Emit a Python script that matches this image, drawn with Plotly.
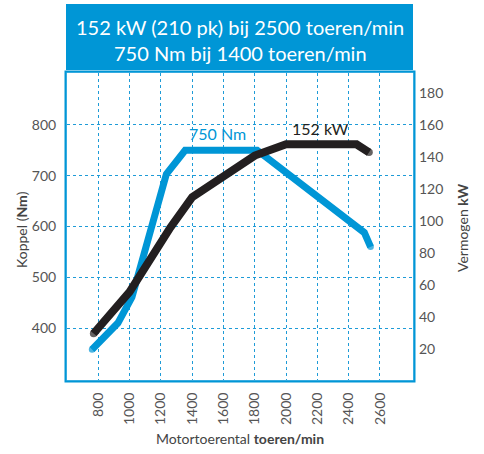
import plotly.graph_objects as go

# Torque curve (Nm) vs engine speed (rpm)
rpm_torque = [760, 925, 1015, 1235, 1355, 1815, 2500, 2540]
torque_nm = [358, 410, 461, 703, 750, 750, 588, 560]

# Power curve (kW) vs engine speed (rpm)
rpm_power = [770, 1000, 1260, 1400, 1800, 2000, 2450, 2530]
power_kw = [30, 56, 96, 115, 141, 148, 148, 143]

x_ticks = [800, 1000, 1200, 1400, 1600, 1800, 2000, 2200, 2400, 2600]
y_ticks = [400, 500, 600, 700, 800]
y2_ticks = [20, 40, 60, 80, 100, 120, 140, 160, 180]

title_1 = "152 kW (210 pk) bij 2500 toeren/min"
title_2 = "750 Nm bij 1400 toeren/min"

BLUE = "#0096d6"
GRID = "#1e9bd7"
FONT = "Lato"
GRAY = "#555555"

W, H = 484, 454
L, R, T, B = 67, 71, 73, 74
PW, PH = W - L - R, H - T - B


def px(xp):
    return (xp - L) / PW


def py(yp):
    return (H - B - yp) / PH


def label(text, xp, yp, size, color, angle=0):
    return dict(text=text, xref="paper", yref="paper", x=px(xp), y=py(yp),
                xanchor="center", yanchor="middle", showarrow=False, textangle=angle,
                font=dict(family=FONT, size=size, color=color))


fig = go.Figure()
fig.add_trace(go.Scatter(
    x=rpm_torque, y=torque_nm, mode="lines+markers", yaxis="y",
    line=dict(color=BLUE, width=7),
    marker=dict(color=BLUE, line=dict(width=0),
                size=[6.5 if i in (0, len(rpm_torque) - 1) else 0 for i in range(len(rpm_torque))]),
    hoverinfo="skip", showlegend=False))
fig.add_trace(go.Scatter(
    x=rpm_power, y=power_kw, mode="lines+markers", yaxis="y2",
    line=dict(color="#231f20", width=8),
    marker=dict(color="#231f20", line=dict(width=0),
                size=[7.5 if i in (0, len(rpm_power) - 1) else 0 for i in range(len(rpm_power))]),
    hoverinfo="skip", showlegend=False))

fig.update_layout(
    width=W, height=H,
    margin=dict(l=L, r=R, t=T, b=B),
    paper_bgcolor="white", plot_bgcolor="white",
    font=dict(family=FONT, color=GRAY, size=14),
    xaxis=dict(range=[600, 2811], tickvals=x_ticks, ticktext=[str(v) for v in x_ticks],
               tickangle=-90, showgrid=True, gridcolor=GRID, griddash="dot", gridwidth=1,
               zeroline=False, showline=True, linecolor="#6cc0e8", linewidth=1, mirror=True,
               ticks="", ticklabelstandoff=6, tickfont=dict(size=14, color=GRAY)),
    yaxis=dict(range=[298, 902], tickvals=y_ticks, showgrid=True, gridcolor=GRID, griddash="dot",
               gridwidth=1, zeroline=False, showline=True, linecolor="#6cc0e8", linewidth=1, mirror=True,
               ticks="", ticklabelstandoff=7, tickfont=dict(size=14, color=GRAY)),
    yaxis2=dict(range=[1, 192.5], tickvals=y2_ticks, overlaying="y", side="right", showgrid=False,
                zeroline=False, showline=False, ticks="", ticklabelstandoff=5,
                tickfont=dict(size=14, color=GRAY)),
    shapes=[
        dict(type="rect", xref="paper", yref="paper", x0=px(66), x1=px(413), y0=py(70), y1=py(4),
             fillcolor=BLUE, line=dict(width=0), layer="below"),
        dict(type="rect", xref="paper", yref="paper", x0=px(65.5), x1=px(414.5), y0=py(381.5), y1=py(71.5),
             line=dict(color=BLUE, width=2), fillcolor="rgba(0,0,0,0)", layer="above"),
    ],
    annotations=[
        label(title_1, 240, 27, 20, "white"),
        label(title_2, 240, 53, 20, "white"),
        label("750 Nm", 217, 133, 16, BLUE),
        label("152 kW", 320, 128, 16, "#231f20"),
        label("Motortoerental <b>toeren/min</b>", 240, 438, 14, "#444444"),
        label("Koppel (<b>Nm</b>)", 21, 230, 14, "#444444", angle=-90),
        label("Vermogen <b>kW</b>", 462, 228, 14, "#444444", angle=-90),
    ],
)

fig.write_html("out.html", config={"displayModeBar": False},
               post_script="document.body.style.margin='0px';")
